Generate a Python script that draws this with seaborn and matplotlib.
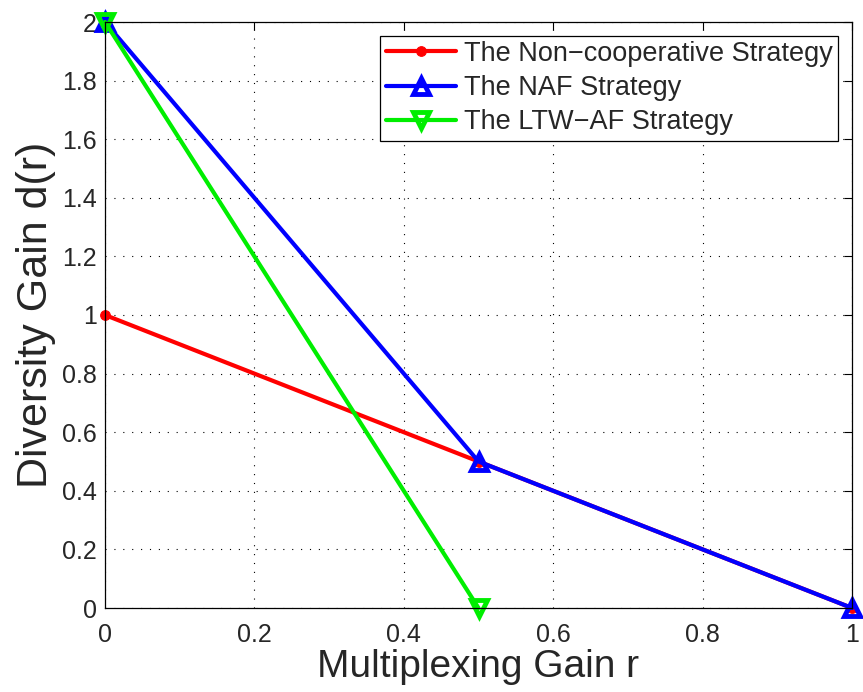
import matplotlib
matplotlib.use("Agg")
import matplotlib.pyplot as plt
import seaborn as sns
import pandas as pd
from matplotlib.ticker import FuncFormatter

# Diversity-multiplexing tradeoff curves
r_noncoop = [0.0, 0.5, 1.0]
d_noncoop = [1.0, 0.5, 0.0]
r_naf = [0.0, 0.5, 1.0]
d_naf = [2.0, 0.5, 0.0]
r_ltw = [0.0, 0.5]
d_ltw = [2.0, 0.0]
labels = ["The Non\u2212cooperative Strategy", "The NAF Strategy", "The LTW\u2212AF Strategy"]

sns.set_style("white")
plt.rcParams["font.family"] = ["Liberation Sans", "DejaVu Sans"]

fig = plt.figure(figsize=(8.63, 6.92), dpi=100)
ax = fig.add_axes([105 / 863, 1 - 608 / 692, (852 - 105) / 863, (608 - 22) / 692])

series = [
    (r_noncoop, d_noncoop, labels[0], "#ff0000", "o", "full"),
    (r_naf, d_naf, labels[1], "#0000ff", "^", "none"),
    (r_ltw, d_ltw, labels[2], "#00ee00", "v", "none"),
]
for xs, ys, lab, col, mk, fill in series:
    df = pd.DataFrame({"r": xs, "d": ys})
    if fill == "full":
        kw = dict(markersize=7)
    else:
        kw = dict(markersize=12, markerfacecolor="none", markeredgewidth=3.5)
    sns.lineplot(data=df, x="r", y="d", ax=ax, color=col, linewidth=3, marker=mk,
                 markeredgecolor=col, label=lab, sort=False, clip_on=False, **kw)

ax.set_xlim(0, 1)
ax.set_ylim(0, 2)
ax.set_xticks([0, 0.2, 0.4, 0.6, 0.8, 1.0])
ax.set_yticks([0, 0.2, 0.4, 0.6, 0.8, 1.0, 1.2, 1.4, 1.6, 1.8, 2.0])
fmt = FuncFormatter(lambda v, p: ("%g" % round(v, 2)))
ax.xaxis.set_major_formatter(fmt)
ax.yaxis.set_major_formatter(fmt)
ax.tick_params(axis="both", which="major", labelsize=18, direction="in", length=6,
               width=0.8, color="black", top=True, right=True, pad=6)
ax.tick_params(axis="x", pad=11)
ax.grid(True, color="black", linestyle=(0, (1, 7)), linewidth=0.8)
for s in ax.spines.values():
    s.set_color("black")
    s.set_linewidth(0.9)
ax.set_xlabel("Multiplexing Gain r", fontsize=28, labelpad=1)
ax.set_ylabel("Diversity Gain d(r)", fontsize=31, labelpad=4)

leg = ax.legend(loc="upper right", fontsize=19.5, frameon=True, fancybox=False,
                edgecolor="black", framealpha=1, borderaxespad=0.5,
                handlelength=2.6, handletextpad=0.3, labelspacing=0.3, borderpad=0.2)
leg.get_frame().set_linewidth(0.9)

fig.savefig("out.png", dpi=100)
